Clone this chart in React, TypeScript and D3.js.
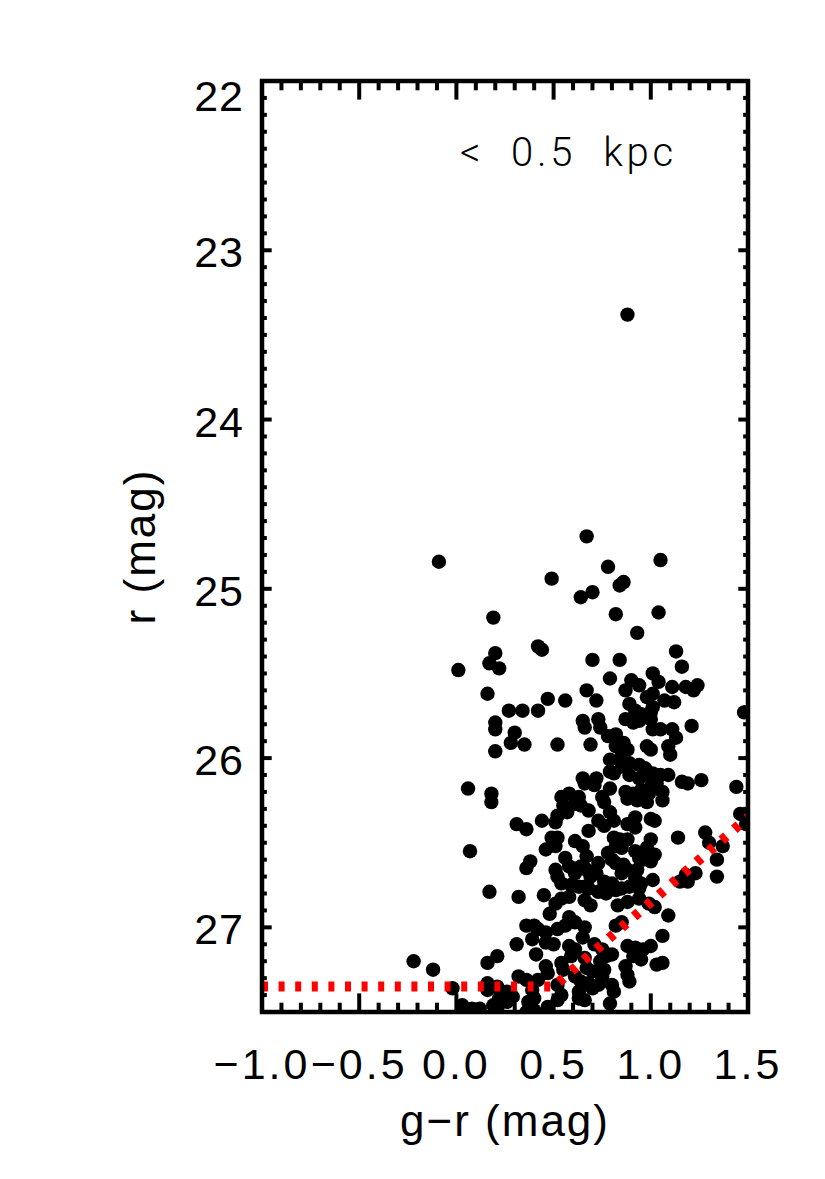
import React from "react";
import * as d3 from "d3";

// colour (g-r) and magnitude (r) of each star
const grColor = [
  -0.09, 0.67, 1.05, 0.78, 0.49, 0.84, 0.86, 0.64, 0.70, 0.19,
  0.82, 1.04, 0.93, 0.42, 0.44, 0.20, 0.17, 0.22, 0.01, 0.70,
  0.84, 1.13, 1.16, 0.79, 1.01, 1.04, 0.90, 0.94, 1.11, 1.18,
  1.22, 1.24, 0.67, 0.87, 0.16, 0.72, 0.47, 0.56, 0.98, 1.01,
  1.07, 1.12, 0.89, 0.92, 0.95, 1.00, 0.27, 0.34, 0.42, 1.48,
  0.20, 0.20, 0.65, 0.66, 0.73, 0.74, 0.87, 0.91, 0.94, 1.00,
  1.01, 1.05, 1.11, 1.13, 1.21, 0.30, 0.28, 0.35, 0.52, 0.69,
  0.78, 0.82, 0.86, 0.88, 0.98, 1.09, 1.10, 0.20, 0.79, 0.84,
  0.89, 0.94, 0.82, 1.00, 0.85, 0.85, 1.01, 0.65, 0.72, 0.79,
  1.09, 1.01, 0.06, 0.18, 0.18, 0.31, 0.36, 0.44, 0.51, 0.52,
  0.49, 0.46, 0.07, 0.38, 0.36, 0.51, 0.52, 0.17, 0.32, 0.45,
  0.51, 0.48, 0.36, 0.40, 0.42, 0.46, 0.39, 0.31, 0.46, 0.50,
  0.41, 0.21, 0.16, -0.22, -0.12, 0.46, 0.47, 0.32, 0.36, 0.42,
  -0.02, 0.16, 0.16, 0.21, 0.26, 0.22, 0.26, 0.29, 0.39, 0.40,
  0.37, 0.03, 0.08, 0.12, 0.19, 0.21, 0.47, 0.52, 0.36, 0.40,
  0.97, 0.81, 0.89, 0.94, 0.98, 0.66, 0.71, 0.79, 0.58, 0.63,
  0.87, 0.91, 0.95, 0.99, 0.75, 0.76, 0.54, 0.55, 0.61, 0.64,
  0.68, 0.88, 0.93, 0.98, 0.79, 0.81, 0.57, 0.73, 0.76, 0.92,
  0.88, 0.92, 1.00, 0.68, 0.81, 0.84, 0.88, 0.82, 0.85, 1.00,
  0.98, 1.01, 0.52, 0.51, 0.61, 0.65, 0.67, 0.92, 0.94, 0.96,
  1.00, 0.78, 0.80, 0.82, 0.86, 0.85, 0.88, 0.56, 0.58, 0.61,
  0.64, 0.67, 0.69, 0.73, 0.72, 0.54, 0.93, 0.92, 0.95, 1.01,
  0.76, 0.80, 0.59, 0.63, 0.66, 1.05, 1.03, 1.00, 1.16, 1.19,
  1.26, 1.44, 1.06, 1.06, 1.02, 1.46, 1.49, 1.14, 1.28, 1.30,
  1.37, 1.02, 1.34, 1.23, 1.18, 1.34, 1.15, 1.19, 0.68, 0.73,
  0.77, 0.82, 0.85, 0.89, 0.94, 0.54, 0.58, 0.66, 0.69, 0.83,
  0.88, 0.94, 0.99, 0.58, 0.61, 0.56, 0.66, 0.65, 0.82, 0.85,
  0.52, 0.88, 0.92, 0.96, 1.00, 0.91, 0.95, 0.58, 0.61, 0.59,
  0.71, 0.75, 0.77, 0.80, 0.74, 0.54, 0.55, 0.66, 0.67, 0.70,
  0.76, 0.75, 0.87, 0.88, 0.89, 0.61, 0.64, 0.68, 0.63, 0.70,
  0.73, 0.80, 0.81, 0.52, 0.54, 0.79, 0.63, 0.66, 1.02, 1.09,
  1.06, 1.03, 1.06, 0.88,
];

const rMag = [
  24.84, 24.69, 24.83, 24.87, 24.94, 24.98, 24.96, 25.05, 25.02, 25.17,
  25.15, 25.14, 25.26, 25.34, 25.36, 25.38, 25.44, 25.47, 25.48, 25.42,
  25.42, 25.37, 25.46, 25.53, 25.50, 25.55, 25.54, 25.57, 25.58, 25.58,
  25.60, 25.57, 25.60, 25.60, 25.62, 25.66, 25.65, 25.66, 25.64, 25.62,
  25.66, 25.67, 25.68, 25.72, 25.74, 25.73, 25.72, 25.72, 25.72, 25.73,
  25.79, 25.83, 25.78, 25.82, 25.77, 25.82, 25.77, 25.79, 25.78, 25.77,
  25.83, 25.83, 25.83, 25.88, 25.81, 25.85, 25.91, 25.92, 25.92, 25.92,
  25.87, 25.86, 25.91, 25.95, 25.93, 25.93, 25.98, 25.96, 26.01, 26.01,
  26.03, 26.04, 25.93, 25.95, 25.96, 26.05, 26.09, 26.12, 26.12, 26.08,
  26.10, 25.70, 26.18, 26.21, 26.26, 26.39, 26.42, 26.37, 26.38, 26.34,
  26.47, 26.54, 26.55, 26.61, 26.65, 26.66, 26.70, 26.79, 26.82, 26.81,
  26.86, 26.92, 26.99, 26.99, 27.01, 27.03, 27.07, 27.10, 27.09, 27.10,
  27.16, 27.17, 27.21, 27.20, 27.25, 27.23, 27.27, 27.29, 27.31, 27.31,
  27.36, 27.33, 27.37, 27.35, 27.38, 27.42, 27.44, 27.41, 27.37, 27.42,
  27.44, 27.46, 27.48, 27.48, 27.46, 27.48, 27.47, 27.43, 27.50, 27.49,
  26.06, 26.09, 26.10, 26.12, 26.10, 26.15, 26.16, 26.18, 26.21, 26.23,
  26.20, 26.21, 26.19, 26.21, 26.23, 26.26, 26.23, 26.28, 26.27, 26.28,
  26.31, 26.24, 26.25, 26.26, 26.32, 26.37, 26.32, 26.37, 26.40, 26.35,
  26.39, 26.41, 26.36, 26.43, 26.47, 26.48, 26.48, 26.52, 26.53, 26.48,
  26.53, 26.58, 26.47, 26.52, 26.49, 26.52, 26.58, 26.55, 26.59, 26.60,
  26.61, 26.56, 26.60, 26.62, 26.63, 26.68, 26.66, 26.59, 26.64, 26.68,
  26.64, 26.66, 26.70, 26.62, 26.68, 26.74, 26.66, 26.71, 26.74, 26.72,
  26.73, 26.74, 26.75, 26.76, 26.76, 26.10, 26.15, 26.17, 26.14, 26.15,
  26.13, 26.17, 26.20, 26.25, 26.37, 26.33, 26.39, 26.47, 26.44, 26.50,
  26.52, 26.57, 26.60, 26.68, 26.69, 26.70, 26.73, 26.73, 26.77, 26.79,
  26.80, 26.78, 26.77, 26.76, 26.77, 26.83, 26.82, 26.84, 26.87, 26.87,
  26.85, 26.83, 26.86, 26.94, 26.97, 26.99, 27.00, 27.06, 26.99, 26.97,
  27.01, 27.11, 27.12, 27.13, 27.11, 27.17, 27.19, 27.11, 27.13, 27.17,
  27.10, 27.13, 27.17, 27.16, 27.20, 27.21, 27.25, 27.18, 27.24, 27.26,
  27.25, 27.29, 27.23, 27.28, 27.32, 27.29, 27.32, 27.33, 27.38, 27.36,
  27.34, 27.34, 27.38, 27.34, 27.40, 27.45, 27.42, 27.43, 26.88, 26.93,
  27.05, 27.22, 27.21, 23.38,
];

// completeness limit (red dotted line)
const limitGr = [-1.0, 0.5, 1.5];
const limitR = [27.35, 27.35, 26.35];

const xTickVals = [-1.0, -0.5, 0.0, 0.5, 1.0, 1.5];
const xTickLabels = ["\u22121.0", "\u22120.5", "0.0", "0.5", "1.0", "1.5"];
const yTickVals = [22, 23, 24, 25, 26, 27];
const yTickLabels = ["22", "23", "24", "25", "26", "27"];
const panelLabel = "<  0.5  kpc";

const W = 825;
const H = 1179;
const box = { left: 262, right: 748, top: 81, bottom: 1012 };
const font = "'Liberation Sans', Arial, sans-serif";

export default function App() {
  const x = d3.scaleLinear().domain([-1.0, 1.5]).range([box.left, box.right]);
  const y = d3.scaleLinear().domain([22, 27.5]).range([box.top, box.bottom]);

  const xMinor = d3.range(-10, 16).map((i) => i / 10);
  const yMinor = d3.range(220, 276).map((i) => i / 10);
  const isMajorX = (v: number) => Math.abs(v * 2 - Math.round(v * 2)) < 1e-6;
  const isMajorY = (v: number) => Math.abs(v - Math.round(v)) < 1e-6;

  const xTickLong = 18.6;
  const yTickLong = 9.7;

  const line = d3
    .line<number>()
    .x((d, i) => x(limitGr[i]))
    .y((d, i) => y(limitR[i]));

  return (
    <svg
      width={W}
      height={H}
      style={{ position: "absolute", left: 0, top: 0, background: "#fff" }}
    >
      <defs>
        <clipPath id="plotArea">
          <rect x={box.left} y={box.top} width={box.right - box.left} height={box.bottom - box.top} />
        </clipPath>
      </defs>

      <g clipPath="url(#plotArea)">
        {grColor.map((g, i) => (
          <circle key={i} cx={x(g)} cy={y(rMag[i])} r={7.2} fill="#000" />
        ))}
        <path
          d={line(limitGr) || ""}
          fill="none"
          stroke="#ff0000"
          strokeWidth={10}
          strokeDasharray="6 10.6"
        />
      </g>

      {/* x ticks, bottom and top */}
      {xMinor.map((v, i) => {
        const len = isMajorX(v) ? xTickLong : xTickLong / 2;
        const px = x(v);
        return (
          <g key={"xt" + i} stroke="#000" strokeWidth={4}>
            <line x1={px} x2={px} y1={box.bottom} y2={box.bottom - len} />
            <line x1={px} x2={px} y1={box.top} y2={box.top + len} />
          </g>
        );
      })}
      {/* y ticks, left and right */}
      {yMinor.map((v, i) => {
        const len = isMajorY(v) ? yTickLong : yTickLong / 2;
        const py = y(v);
        return (
          <g key={"yt" + i} stroke="#000" strokeWidth={4}>
            <line x1={box.left} x2={box.left + len} y1={py} y2={py} />
            <line x1={box.right} x2={box.right - len} y1={py} y2={py} />
          </g>
        );
      })}

      <rect
        x={box.left}
        y={box.top}
        width={box.right - box.left}
        height={box.bottom - box.top}
        fill="none"
        stroke="#000"
        strokeWidth={4.5}
      />

      {xTickVals.map((v, i) => (
        <text
          key={"xl" + i}
          x={x(v)}
          y={1079}
          textAnchor="middle"
          fontFamily={font}
          fontSize={43}
          letterSpacing={3}
        >
          {xTickLabels[i]}
        </text>
      ))}
      {yTickVals.map((v, i) => (
        <text
          key={"yl" + i}
          x={244}
          y={i === 0 ? y(v) + 30 : y(v) + 17}
          textAnchor="end"
          fontFamily={font}
          fontSize={43}
          letterSpacing={1}
        >
          {yTickLabels[i]}
        </text>
      ))}

      <text
        x={(box.left + box.right) / 2}
        y={1136}
        textAnchor="middle"
        fontFamily={font}
        fontSize={44}
        letterSpacing={2}
      >
        g{"\u2212"}r (mag)
      </text>
      <text
        transform={`translate(155,${(box.top + box.bottom) / 2}) rotate(-90)`}
        textAnchor="middle"
        fontFamily={font}
        fontSize={44}
        letterSpacing={2}
      >
        r (mag)
      </text>

      <text
        x={460}
        y={166}
        fontFamily="Roboto, 'Open Sans', sans-serif"
        fontWeight={300}
        fontSize={40}
        textLength={213}
        lengthAdjust="spacing"
        xmlSpace="preserve"
      >
        {panelLabel}
      </text>
    </svg>
  );
}
